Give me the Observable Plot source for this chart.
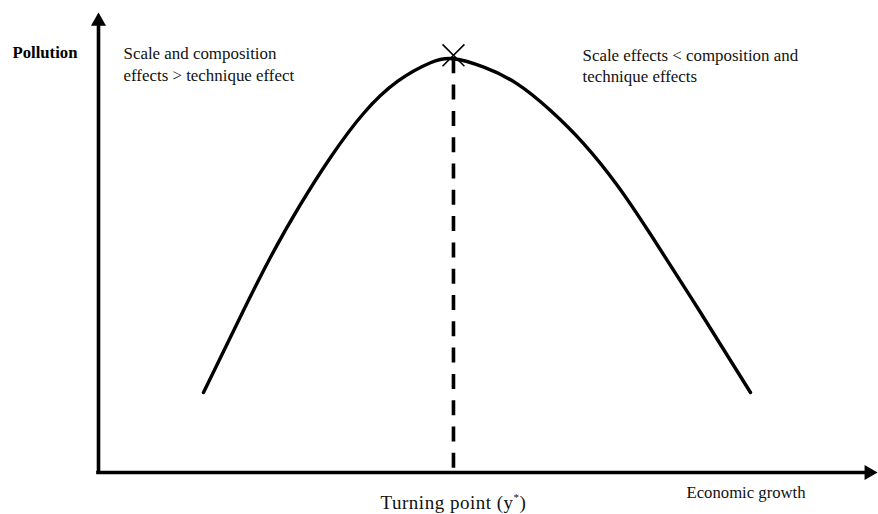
<!DOCTYPE html>
<html>
<head>
<meta charset="utf-8">
<script src="https://cdn.jsdelivr.net/npm/d3@7"></script>
<script src="https://cdn.jsdelivr.net/npm/@observablehq/plot@0.6"></script>
<style>
  html, body { margin: 0; padding: 0; background: #fff; }
  #chart svg { display: block; font-family: 'Liberation Serif', 'Times New Roman', Times, serif; }
</style>
</head>
<body>
<div id="chart"></div>
<script>
// Curve (economic growth vs pollution, arbitrary units 0–100)
const growth    = [13.46, 18.21, 22.05, 25.90, 29.74, 33.97, 38.33, 42.56, 45.51, 49.40, 53.68, 57.95, 62.22, 66.50, 70.77, 77.18, 83.59];
const pollution = [17.43, 33.99, 46.90, 58.39, 68.63, 78.21, 85.19, 89.26, 90.13, 88.30, 84.68, 78.87, 71.61, 62.60, 51.90, 34.86, 17.43];

// Turning point
const turningX = [45.51];
const turningY = [90.13];
const markerY = [90.9];

// Labels
const yLabel = ["Pollution"];
const xLabel = ["Economic growth"];
const leftNote = ["Scale and composition\neffects > technique effect"];
const rightNote = ["Scale effects < composition and\ntechnique effects"];
const turningLabel = ["Turning point (y*)"];

const curve = growth.map((g, i) => ({g, p: pollution[i]}));
const font = "'Liberation Serif', 'Times New Roman', Times, serif";

const plot = Plot.plot({
  width: 878,
  height: 514,
  marginLeft: 98,
  marginRight: 0,
  marginTop: 13,
  marginBottom: 42,
  x: {domain: [0, 100], axis: null},
  y: {domain: [0, 100], axis: null},
  style: {fontFamily: font, background: "#fff", color: "#111"},
  marks: [
    // axes lines
    Plot.ruleX([0], {y1: 0, y2: 97.5, stroke: "#000", strokeWidth: 3.6, strokeLinecap: "square"}),
    Plot.ruleY([0], {x1: 0, x2: 98.6, stroke: "#000", strokeWidth: 3.6, strokeLinecap: "square"}),
    // arrowheads
    Plot.dot([0], {x: 0, y: 98.3, symbol: "triangle", r: 5.6, fill: "#000", stroke: null}),
    Plot.dot([0], {x: 98.77, y: 0, symbol: "triangle", r: 5.6, fill: "#000", stroke: null, rotate: 90}),
    // dashed turning-point line
    Plot.ruleX(turningX, {x: d => d, y1: turningY[0], y2: 0, stroke: "#000", strokeWidth: 3.6, strokeDasharray: "15,11.3"}),
    // curve
    Plot.line(curve, {x: "g", y: "p", curve: "natural", stroke: "#000", strokeWidth: 3.4}),
    // X marker at the peak
    Plot.dot(turningX, {x: d => d, y: () => markerY[0], symbol: "times", r: 10, stroke: "#000", strokeWidth: 1.6}),
    // texts
    Plot.text(yLabel, {text: d => d, frameAnchor: "top-left", textAnchor: "start", lineAnchor: "bottom", dx: -86, dy: 44.3, fontSize: 16.7, fontWeight: "bold", fontFamily: font, fill: "#000"}),
    Plot.text(leftNote, {text: d => d, frameAnchor: "top-left", textAnchor: "start", lineAnchor: "bottom", dx: 25, dy: 67.3, fontSize: 16.9, lineHeight: 1.27, fontFamily: font, fill: "#111"}),
    Plot.text(rightNote, {text: d => d, frameAnchor: "top-left", textAnchor: "start", lineAnchor: "bottom", dx: 484, dy: 68, fontSize: 16.9, lineHeight: 1.22, fontFamily: font, fill: "#111"}),
    Plot.text(xLabel, {text: d => d, frameAnchor: "bottom-left", textAnchor: "start", lineAnchor: "bottom", dx: 588, dy: 25, fontSize: 16.7, fontFamily: font, fill: "#111"}),
    Plot.text(turningLabel, {x: () => turningX[0], text: d => d, frameAnchor: "bottom", textAnchor: "middle", lineAnchor: "bottom", dy: 36, fontSize: 19, fontFamily: font, fill: "#111"})
  ]
});

// superscript asterisk in "(y*)"
plot.querySelectorAll("text").forEach(t => {
  if (t.textContent === turningLabel[0]) {
    const ns = "http://www.w3.org/2000/svg";
    t.style.letterSpacing = "0.5px";
    t.textContent = "Turning point (y";
    const sup = document.createElementNS(ns, "tspan");
    sup.setAttribute("dy", "-8");
    sup.setAttribute("font-size", "11");
    sup.textContent = "*";
    const rest = document.createElementNS(ns, "tspan");
    rest.setAttribute("dy", "8");
    rest.textContent = ")";
    t.appendChild(sup);
    t.appendChild(rest);
  }
});

document.getElementById("chart").appendChild(plot);
</script>
</body>
</html>
